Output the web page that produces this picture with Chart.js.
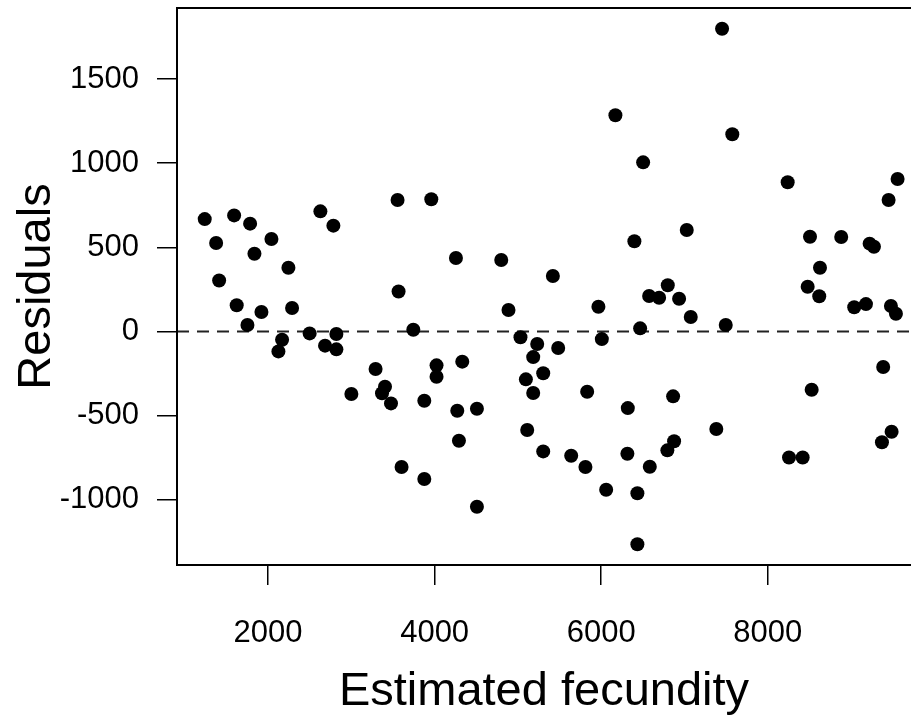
<!DOCTYPE html>
<html>
<head>
<meta charset="utf-8">
<script src="https://cdn.jsdelivr.net/npm/chart.js@4.4.1/dist/chart.umd.min.js"></script>
<style>
  html, body { margin: 0; padding: 0; background: #fff; }
  canvas { display: block; }
</style>
</head>
<body>
<canvas id="resid_chart" width="911" height="721"></canvas>
<script>
// estimated fecundity (x) and residuals (y)
const fecundity = [
  1239, 1592, 1784, 1376, 2040, 1836, 2244, 1412, 2628, 2784,
  3555, 3960, 4256, 4800, 5420, 3567, 1623, 1752, 1920, 2288,
  2168, 2124, 2499, 2684, 2820, 2820, 3744, 3000, 3291, 3404,
  3368, 3476, 3876, 4023, 4023, 4332, 4272, 4508, 4292, 3603,
  3876, 4508, 4887, 5031, 5232, 5184, 5304, 5096, 5184, 5112,
  5304, 7452, 6171, 7575, 6504, 8240, 9560, 9452, 7028, 6399,
  8508, 8883, 9224, 9276, 8628, 6800, 6576, 6696, 6936, 8480,
  8619, 5967, 7076, 7496, 6468, 6008, 5484, 5832, 6320, 6864,
  5640, 5811, 6315, 6584, 6876, 6795, 7383, 6060, 6435, 6435,
  9039, 9180, 9480, 9540, 9387, 8528, 9488, 9372, 8256, 8420
];
const residuals = [
  668, 690, 641, 526, 550, 462, 379, 303, 714, 629,
  781, 786, 437, 425, 330, 238, 156, 39, 116, 140,
  -49, -118, -11, -84, -15, -106, 11, -371, -223, -328,
  -367, -427, -411, -201, -269, -179, -471, -459, -649, -805,
  -876, -1041, 128, -34, -74, -152, -248, -284, -365, -585,
  -712, 1799, 1285, 1172, 1005, 887, 906, 781, 603, 536,
  563, 562, 522, 504, 379, 275, 211, 201, 195, 266,
  210, 147, 86, 39, 19, -45, -98, -358, -455, -385,
  -738, -805, -726, -803, -652, -706, -579, -940, -961, -1264,
  144, 163, 152, 106, -211, -346, -595, -658, -748, -748
];
const x_ticks = [2000, 4000, 6000, 8000];
const y_ticks = [-1000, -500, 0, 500, 1000, 1500];
const x_range = [906, 9721];
const y_range = [-1387, 1922];
const ref_level = 0;

const font_family = "'Liberation Sans', Arial, sans-serif";

// R-style box: top, left and bottom edges (right edge is cropped off)
const frame_plugin = {
  id: 'frame',
  afterDatasetsDraw(chart) {
    const {ctx, chartArea: a} = chart;
    ctx.save();
    ctx.strokeStyle = '#000';
    ctx.lineWidth = 2;
    ctx.beginPath();
    ctx.moveTo(a.right + 2, a.top);
    ctx.lineTo(a.left, a.top);
    ctx.lineTo(a.left, a.bottom);
    ctx.lineTo(a.right + 2, a.bottom);
    ctx.stroke();
    ctx.restore();
  }
};

const points = fecundity.map((v, i) => ({x: v, y: residuals[i]}));
const zero_line = x_range.map(v => ({x: v, y: ref_level}));

const ctx = document.getElementById('resid_chart').getContext('2d');
new Chart(ctx, {
  type: 'scatter',
  data: {
    datasets: [
      {
        type: 'line',
        data: zero_line,
        borderColor: '#222',
        borderWidth: 2,
        borderDash: [12, 8],
        pointRadius: 0,
        fill: false,
        order: 2
      },
      {
        data: points,
        backgroundColor: '#000',
        borderWidth: 0,
        pointRadius: 7,
        order: 1
      }
    ]
  },
  options: {
    responsive: false,
    animation: false,
    layout: { autoPadding: false, padding: { top: 8, right: 0, bottom: 0, left: 0 } },
    plugins: { legend: { display: false }, tooltip: { enabled: false } },
    scales: {
      x: {
        type: 'linear',
        min: x_range[0],
        max: x_range[1],
        afterBuildTicks: s => { s.ticks = x_ticks.map(v => ({value: v})); },
        afterFit: s => {
          s.height = 156;
          s.paddingLeft = 0;
          s.paddingRight = 0;
        },
        grid: { drawOnChartArea: false, tickLength: 20, color: '#000', lineWidth: 1.5 },
        border: { display: false },
        ticks: {
          color: '#000', padding: 30, maxRotation: 0, autoSkip: false,
          font: { family: font_family, size: 31 },
          callback: v => String(v)
        },
        title: {
          display: true, text: 'Estimated fecundity', color: '#000',
          font: { family: font_family, size: 47 },
          padding: { top: 0, bottom: 1 }
        }
      },
      y: {
        type: 'linear',
        min: y_range[0],
        max: y_range[1],
        afterBuildTicks: s => { s.ticks = y_ticks.map(v => ({value: v})); },
        afterFit: s => {
          s.width = 177;
          s.paddingTop = 0;
          s.paddingBottom = 0;
        },
        grid: { drawOnChartArea: false, tickLength: 20, color: '#000', lineWidth: 1.5 },
        border: { display: false },
        ticks: {
          color: '#000', padding: 18,
          font: { family: font_family, size: 31 },
          callback: v => String(v)
        },
        title: {
          display: true, text: 'Residuals', color: '#000',
          font: { family: font_family, size: 47 },
          padding: { top: 9, bottom: 0 }
        }
      }
    }
  },
  plugins: [frame_plugin]
});
</script>
</body>
</html>
